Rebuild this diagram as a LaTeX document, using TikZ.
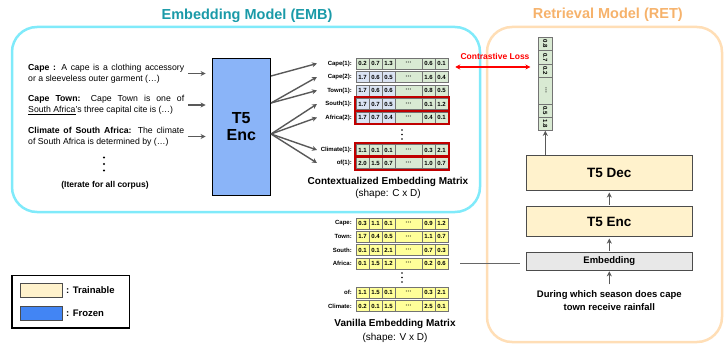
\documentclass[tikz,border=0pt]{standalone}
\usepackage{fontspec}
\setmainfont{Liberation Sans}
\usetikzlibrary{positioning,arrows.meta,fit}
\usepackage{color}
\definecolor{embcyan}{RGB}{128, 234, 250}
\definecolor{embteal}{RGB}{26, 154, 168}
\definecolor{retorange}{RGB}{246, 178, 107}
\definecolor{retframe}{RGB}{255, 222, 182}
\definecolor{encblue}{RGB}{138, 180, 248}
\definecolor{frozenblue}{RGB}{66, 133, 244}
\definecolor{trainyellow}{RGB}{255, 242, 204}
\definecolor{cellgreen}{RGB}{217, 234, 211}
\definecolor{cellblue}{RGB}{218, 227, 243}
\definecolor{cellyellow}{RGB}{255, 255, 153}
\definecolor{lossred}{RGB}{255, 0, 0}
\definecolor{boxred}{RGB}{192, 0, 0}
\definecolor{grey}{RGB}{89, 89, 89}
\definecolor{embgrey}{RGB}{232, 232, 232}

\tikzset{
  title/.style={font=\fontsize{14.5}{15}\selectfont\bfseries},
  corpus/.style={anchor=west, text width=156pt, align=justify, inner sep=0pt,
    font=\fontsize{8.7}{11}\selectfont},
  arr/.style={grey, line width=1.4pt, -{Stealth[length=5pt,width=5pt]}},
  cellbox/.style={draw=black!55, line width=0.5pt, minimum width=13pt,
    minimum height=11pt, inner sep=0pt, font=\fontsize{6}{6}\selectfont\bfseries},
  rowlbl/.style={anchor=east, inner sep=0pt, font=\fontsize{6}{6}\selectfont\bfseries},
  redbox/.style={draw=boxred, line width=1.8pt, inner sep=1pt},
  veccell/.style={draw=black!55, fill=cellgreen, rotate=-90, minimum width=13.3pt,
    minimum height=13.3pt, inner sep=0pt, font=\fontsize{6}{6}\selectfont\bfseries},
  retbox/.style={draw=black!70, fill=trainyellow, line width=0.8pt,
    minimum width=166.7pt, font=\fontsize{13.5}{14}\selectfont\bfseries},
  swatch/.style={draw=black!70, line width=0.8pt, minimum width=42pt, minimum height=14pt},
  legtxt/.style={anchor=west, inner sep=0pt, font=\fontsize{9.5}{10}\selectfont\bfseries}
}

% One row of a matrix: [style of first cells]{name}{y}{label}{five values}
\newcommand{\matrow}[9][]{%
  \node[rowlbl] (#2l) at (352,#3) {#4};
  \node[cellbox,#1] (#2a) at (362.5,#3) {#5};
  \node[cellbox,#1] (#2b) at (375.5,#3) {#6};
  \node[cellbox,#1] (#2c) at (388.5,#3) {#7};
  \node[cellbox,minimum width=27pt] (#2d) at (408.5,#3) {···};
  \node[cellbox] (#2e) at (428.5,#3) {#8};
  \node[cellbox] (#2f) at (441.5,#3) {#9};
}

\begin{document}
\begin{tikzpicture}[x=1pt,y=-1pt]
\useasboundingbox (0,0) rectangle (724,345);

% Draw model frames
\draw[embcyan, line width=2.5pt, rounded corners=25pt] (12,27) rectangle (480,212);
\draw[retframe, line width=2.5pt, rounded corners=25pt] (487,27) rectangle (722,342);

% Add titles
\node[title, embteal] (embtitle) at (247,16) {Embedding Model (EMB)};
\node[title, retorange] (rettitle) at (607.8,15) {Retrieval Model (RET)};

% Corpus entries
\node[corpus] (txtcape) at (28,73.5)
  {\textbf{Cape :} A cape is a clothing accessory\linebreak or a sleeveless outer garment (…)};
\node[corpus] (txttown) at (28,105)
  {\textbf{Cape Town:} Cape Town is one of\linebreak \underline{South Africa}'s three capital cite is (…)};
\node[corpus] (txtclimate) at (28,136.5)
  {\textbf{Climate of South Africa:} The climate\linebreak of South Africa is determined by (…)};
\fill (104,157.5) circle (1.1) (104,164) circle (1.1) (104,170.5) circle (1.1);
\node[font=\fontsize{8.5}{10}\selectfont\bfseries] (iterate) at (105,185) {(Iterate for all corpus)};

% Encoder of EMB
\node[draw=black, line width=0.8pt, fill=encblue, minimum width=58.7pt, minimum height=136.7pt,
  align=center, font=\fontsize{16}{17.5}\selectfont\bfseries] (enc) at (241.3,126.7) {T5\\Enc};

\draw[arr, shorten <=4pt, shorten >=6pt] (txtcape.east) -- (enc.west |- txtcape.east);
\draw[arr, shorten <=4pt, shorten >=6pt] (txttown.east) -- (enc.west |- txttown.east);
\draw[arr, shorten <=4pt, shorten >=6pt] (txtclimate.east) -- (enc.west |- txtclimate.east);

% Contextualized embedding matrix
\begin{scope}[cellbox/.append style={fill=cellgreen}]
\matrow{cape1}{63.5}{Cape(1):}{0.2}{0.7}{1.3}{0.6}{0.1}
\matrow[fill=cellblue]{cape2}{77}{Cape(2):}{1.7}{0.6}{0.5}{1.6}{0.4}
\matrow[fill=cellblue]{town1}{90.5}{Town(1):}{1.7}{0.6}{0.6}{0.8}{0.5}
\matrow[fill=cellblue]{south1}{104}{South(1):}{1.7}{0.7}{0.5}{0.1}{1.2}
\matrow[fill=cellblue]{africa2}{117.5}{Africa(2):}{1.7}{0.7}{0.4}{0.4}{0.1}
\matrow{climate1}{150}{Climate(1):}{1.1}{0.1}{0.1}{0.3}{2.1}
\matrow{of1}{163}{of(1):}{2.0}{1.5}{0.7}{1.0}{0.7}
\end{scope}
\fill (402,130) circle (0.8) (402,134.5) circle (0.8) (402,139) circle (0.8);

\node[redbox, fit=(south1a)(south1f)] (south1box) {};
\node[redbox, fit=(africa2a)(africa2f)] (africa2box) {};
\node[redbox, fit=(climate1a)(climate1f)] (climate1box) {};
\node[redbox, fit=(of1a)(of1f)] (of1box) {};

\node[align=center, font=\fontsize{10}{12.3}\selectfont] (ctxcap) at (388,188)
  {\textbf{Contextualized Embedding Matrix}\\(shape: C x D)};

% Fan out of encoder
\coordinate (tipx) at (317,0);
\draw[arr] ([yshift=50.7pt]enc.east) -- (tipx |- cape1l);
\draw[arr] ([yshift=23.7pt]enc.east) -- (tipx |- cape2l);
\draw[arr] ([yshift=23.7pt]enc.east) -- (tipx |- town1l);
\draw[arr] ([yshift=-7.3pt]enc.east) -- (tipx |- south1l);
\draw[arr] ([yshift=-7.3pt]enc.east) -- (tipx |- africa2l);
\draw[arr] ([yshift=-7.3pt]enc.east) -- (tipx |- climate1l);
\draw[arr] ([yshift=-7.3pt]enc.east) -- (tipx |- of1l);

% Vanilla embedding matrix
\begin{scope}[cellbox/.append style={fill=cellyellow}]
\matrow{vcape}{223.5}{Cape:}{0.3}{1.1}{0.1}{0.9}{1.2}
\matrow{vtown}{236.8}{Town:}{1.7}{0.4}{0.5}{1.1}{0.7}
\matrow{vsouth}{250}{South:}{0.1}{0.1}{2.1}{0.7}{0.3}
\matrow{vafrica}{263.3}{Africa:}{0.1}{1.5}{1.2}{0.2}{0.6}
\matrow{vof}{292.7}{of:}{1.1}{1.5}{0.1}{0.3}{2.1}
\matrow{vclimate}{306}{Climate:}{0.2}{0.1}{1.5}{2.5}{0.1}
\end{scope}
\fill (402,273) circle (0.8) (402,277.5) circle (0.8) (402,282) circle (0.8);

\node[align=center, font=\fontsize{10}{14}\selectfont] (vancap) at (395,330.5)
  {\textbf{Vanilla Embedding Matrix}\\(shape: V x D)};

% Retrieval model
\node[veccell] (vec1) at (545.3,44) {0.8};
\node[veccell] (vec2) at (545.3,57.3) {0.7};
\node[veccell] (vec3) at (545.3,70.7) {0.2};
\node[veccell, minimum width=27pt] (vec4) at (545.3,90.7) {···};
\node[veccell] (vec5) at (545.3,110.7) {0.5};
\node[veccell] (vec6) at (545.3,124) {1.8};

\node[retbox, minimum height=35.7pt] (dec) at (609.3,172.8) {T5 Dec};
\node[retbox, minimum height=30pt] (retenc) at (609.3,221.7) {T5 Enc};
\node[draw=black!70, fill=embgrey, line width=0.8pt, minimum width=166.7pt, minimum height=17.3pt,
  inner sep=0pt, font=\fontsize{9.5}{10}\selectfont\bfseries] (embed) at (609.3,261.3) {Embedding};
\node[align=center, inner sep=1pt, font=\fontsize{9.5}{12.7}\selectfont\bfseries] (query) at (609.3,300.3)
  {During which season does cape\\town receive rainfall};

\draw[arr] (vec6.east |- dec.north) -- (vec6.east);
\draw[arr, shorten <=1.5pt, shorten >=1.5pt] (retenc.north) -- (dec.south);
\draw[arr, shorten <=1.5pt, shorten >=1.5pt] (embed.north) -- (retenc.south);
\draw[arr, shorten <=5pt, shorten >=1pt] (query.north) -- (embed.south);

% Link from vanilla matrix
\draw[black!60, line width=0.8pt, shorten <=12pt, shorten >=6pt] (vafricaf.east) -- (vafricaf.east -| embed.west);

% Contrastive loss
\coordinate (lossy) at (0,67);
\draw[lossred, line width=1.5pt, {Stealth[length=5pt,width=5pt]}-{Stealth[length=5pt,width=5pt]},
  shorten <=7pt, shorten >=8pt] (cape1f.east |- lossy) -- (vec3.south |- lossy);
\node[lossred, font=\fontsize{8.5}{9}\selectfont\bfseries] (loss) at (495,56) {Contrastive Loss};

% Legend
\node[draw=black, line width=1.3pt, minimum width=117.3pt, minimum height=52.3pt] (legend) at (70.5,301.8) {};
\node[swatch, fill=trainyellow] (trainsw) at (41,290) {};
\node[swatch, fill=frozenblue] (frozensw) at (41,313) {};
\node[legtxt] (traintxt) at (66,290) {: Trainable};
\node[legtxt] (frozentxt) at (66,313) {: Frozen};
\end{tikzpicture}
\end{document}
